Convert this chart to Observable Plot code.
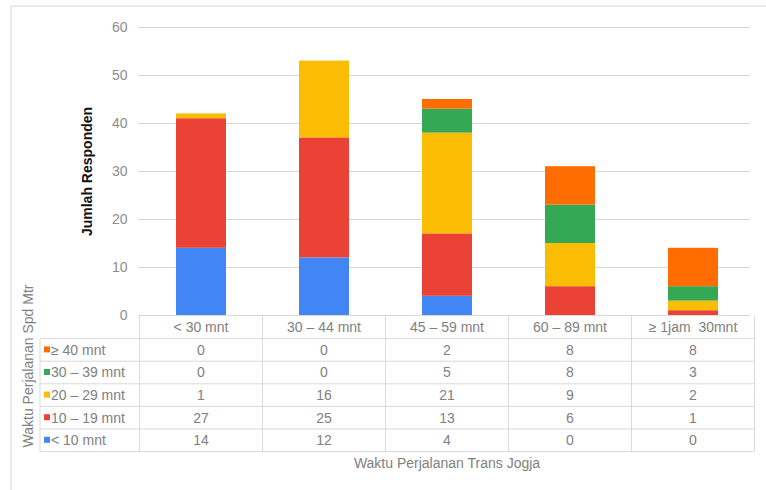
<!DOCTYPE html>
<html>
<head>
<meta charset="utf-8">
<script src="https://cdn.jsdelivr.net/npm/d3@7"></script>
<script src="https://cdn.jsdelivr.net/npm/@observablehq/plot@0.6"></script>
<style>
  html, body { margin: 0; padding: 0; background: #fff; }
  #chart { width: 766px; height: 490px; }
</style>
</head>
<body>
<div id="chart"></div>
<script>
// Travel time by Trans Jogja (columns) versus travel time by motorbike (stacked series)
const categories = ["< 30 mnt", "30 – 44 mnt", "45 – 59 mnt", "60 – 89 mnt", "≥ 1jam  30mnt"];
const series = ["< 10 mnt", "10 – 19 mnt", "20 – 29 mnt", "30 – 39 mnt", "≥ 40 mnt"];
const colors = ["#4285f4", "#ea4335", "#fbbc04", "#34a853", "#ff6d01"];
const under10 = [14, 12, 4, 0, 0];
const from10to19 = [27, 25, 13, 6, 1];
const from20to29 = [1, 16, 21, 9, 2];
const from30to39 = [0, 0, 5, 8, 3];
const over40 = [0, 0, 2, 8, 8];
const yTicks = [0, 10, 20, 30, 40, 50, 60];

const seriesValues = [under10, from10to19, from20to29, from30to39, over40];
const rows = series.flatMap((s, i) =>
  categories.map((c, j) => ({category: c, series: s, value: seriesValues[i][j]}))
);

const font = "'Liberation Sans', Arial, sans-serif";
const gridColor = "#d9d9d9";
const textColor = "#808080";
const fontSize = 14;

const chart = Plot.plot({
  width: 766,
  height: 490,
  marginLeft: 138,
  marginRight: 11,
  marginTop: 27,
  marginBottom: 175,
  style: {fontFamily: font, fontSize: fontSize + "px", color: "#8c8c8c", background: "transparent"},
  x: {domain: categories, paddingInner: 0.595, paddingOuter: 0.2975, axis: null},
  y: {domain: [0, 60], ticks: yTicks, tickSize: 0, tickPadding: 11, label: null},
  color: {domain: series, range: colors},
  marks: [
    Plot.ruleY(yTicks, {stroke: gridColor, strokeWidth: 1, insetRight: 5}),
    Plot.barY(rows, {x: "category", y: "value", fill: "series"}),
    Plot.text(["Jumlah Responden"], {
      frameAnchor: "left", textAnchor: "middle", dx: -51, rotate: -90,
      fontWeight: "bold", fill: "#111", fontSize: 14
    })
  ]
});
document.getElementById("chart").appendChild(chart);

// Data table under the bars, aligned to the band scale
const xs = chart.scale("x");
const step = xs.step ?? (xs.range[1] - xs.range[0]) / categories.length;
const bw = xs.bandwidth;
const colLeft = c => xs.apply(c) + bw / 2 - step / 2;
const colCenter = c => xs.apply(c) + bw / 2;
const tableLeft = colLeft(categories[0]);
const tableRight = colLeft(categories[categories.length - 1]) + step;
const legendLeft = 40;
const tableTop = 316;
const rowH = 22.6;
const tableRows = series.slice().reverse();
const tableBottom = tableTop + rowH * (tableRows.length + 1);

const svg = d3.select(chart);
const g = svg.append("g").attr("font-family", font).attr("font-size", fontSize)
  .attr("text-anchor", "start");

// outer frame
g.append("line").attr("x1", 11).attr("x2", 11).attr("y1", 6).attr("y2", 490)
  .attr("stroke", "#d6d6d6");
g.append("line").attr("x1", 11).attr("x2", 766).attr("y1", 6).attr("y2", 6)
  .attr("stroke", "#d6d6d6");

// horizontal table lines
for (let i = 1; i <= tableRows.length + 1; i++) {
  g.append("line")
    .attr("x1", legendLeft).attr("x2", tableRight)
    .attr("y1", tableTop + rowH * i).attr("y2", tableTop + rowH * i)
    .attr("stroke", gridColor);
}
// vertical table lines
g.append("line").attr("x1", legendLeft).attr("x2", legendLeft)
  .attr("y1", tableTop + rowH).attr("y2", tableBottom).attr("stroke", gridColor);
categories.forEach(c => {
  g.append("line").attr("x1", colLeft(c)).attr("x2", colLeft(c))
    .attr("y1", tableTop).attr("y2", tableBottom).attr("stroke", gridColor);
});
g.append("line").attr("x1", tableRight).attr("x2", tableRight)
  .attr("y1", tableTop).attr("y2", tableBottom).attr("stroke", gridColor);

// header row: category names
categories.forEach(c => {
  g.append("text").attr("x", colCenter(c)).attr("y", tableTop + rowH / 2)
    .attr("dy", "0.35em").attr("text-anchor", "middle")
    .attr("fill", textColor).text(c);
});

// series rows: swatch, name, values
tableRows.forEach((s, r) => {
  const si = series.indexOf(s);
  const cy = tableTop + rowH * (r + 1.5);
  g.append("rect").attr("x", 44).attr("y", cy - 3.5).attr("width", 6).attr("height", 6)
    .attr("fill", colors[si]);
  g.append("text").attr("x", 51).attr("y", cy).attr("dy", "0.35em")
    .attr("text-anchor", "start").attr("fill", textColor).text(s);
  categories.forEach((c, j) => {
    g.append("text").attr("x", colCenter(c)).attr("y", cy).attr("dy", "0.35em")
      .attr("text-anchor", "middle").attr("fill", textColor)
      .text(seriesValues[si][j]);
  });
});

// axis titles for the table
g.append("text").attr("x", (tableLeft + tableRight) / 2).attr("y", 463).attr("dy", "0.35em")
  .attr("text-anchor", "middle").attr("fill", textColor)
  .text("Waktu Perjalanan Trans Jogja");
g.append("text").attr("transform", "translate(28,366) rotate(-90)").attr("dy", "0.35em")
  .attr("text-anchor", "middle").attr("fill", textColor)
  .text("Waktu Perjalanan Spd Mtr");
</script>
</body>
</html>
